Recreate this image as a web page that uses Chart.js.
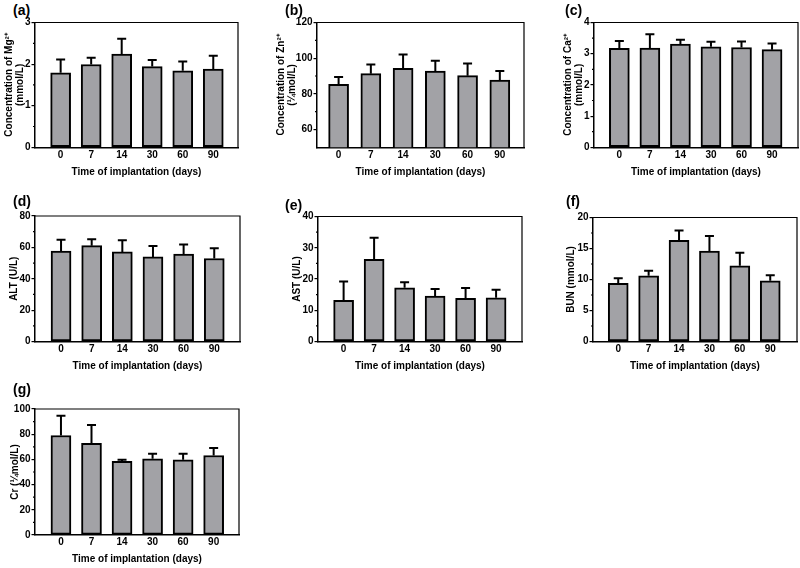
<!DOCTYPE html>
<html><head><meta charset="utf-8">
<script src="https://cdn.jsdelivr.net/npm/chart.js@4/dist/chart.umd.min.js"></script>
<style>
html,body{margin:0;padding:0;background:#fff;}
#wrap{position:relative;width:800px;height:568px;overflow:hidden;background:#fff;}
#wrap canvas{position:absolute;left:0;top:0;}
.lab{position:absolute;font:bold 14px "Liberation Sans",Arial,sans-serif;line-height:16px;color:#000;white-space:nowrap;}
</style></head><body>
<div id="wrap"></div>
<script>
// ---- data ----
const days = ['0', '7', '14', '30', '60', '90'];

const mgMean = [1.79, 1.99, 2.24, 1.94, 1.84, 1.88];
const mgSd   = [0.32, 0.16, 0.37, 0.16, 0.22, 0.32];
const mgTicks = [0, 1, 2, 3];
const mgMinor = [0.5, 1.5, 2.5];

const znMean = [85.3, 91.3, 94.3, 92.8, 90.2, 87.7];
const znSd   = [4.1, 5.1, 7.8, 5.7, 6.8, 5.1];
const znTicks = [60, 80, 100, 120];
const znMinor = [70, 90, 110];

const caMean = [3.17, 3.18, 3.31, 3.22, 3.20, 3.13];
const caSd   = [0.24, 0.44, 0.14, 0.16, 0.19, 0.20];
const caTicks = [0, 1, 2, 3, 4];
const caMinor = [0.5, 1.5, 2.5, 3.5];

const altMean = [57.7, 61.1, 57.1, 53.9, 55.8, 52.9];
const altSd   = [7.2, 4.1, 7.4, 7.0, 6.0, 6.5];
const altTicks = [0, 20, 40, 60, 80];
const altMinor = [10, 30, 50, 70];

const astMean = [13.2, 26.3, 17.2, 14.5, 13.8, 14.0];
const astSd   = [6.0, 6.9, 1.8, 2.3, 3.3, 2.6];
const astTicks = [0, 10, 20, 30, 40];
const astMinor = [5, 15, 25, 35];

const bunMean = [9.4, 10.6, 16.3, 14.6, 12.2, 9.8];
const bunSd   = [0.8, 0.8, 1.6, 2.4, 2.1, 0.9];
const bunTicks = [0, 5, 10, 15, 20];
const bunMinor = [2.5, 7.5, 12.5, 17.5];

const crMean = [79.0, 72.7, 58.4, 60.5, 59.7, 63.1];
const crSd   = [15.7, 14.6, 1.3, 4.0, 4.8, 5.9];
const crTicks = [0, 20, 40, 60, 80, 100];
const crMinor = [10, 30, 50, 70, 90];

const xTitle = 'Time of implantation (days)';

// ---- layout / styling (not data) ----
const FONT = '"Liberation Sans", Arial, sans-serif';
const panels = [
  {label:'(a)', lab:[13,2],   mean:mgMean,  sd:mgSd,  ticks:mgTicks,  minor:mgMinor,  yMin:0,  yMax:3,
   title:['Concentration of Mg²⁺','(mmol/L)'], area:[35,238,22.5,147.3], yW:35, tPad:3.5, xH:33, xPad:2.5, xMin:-0.84, xMax:5.81},
  {label:'(b)', lab:[285,2],  mean:znMean,  sd:znSd,  ticks:znTicks,  minor:znMinor,  yMin:50, yMax:120,
   title:['Concentration of Zn²⁺','(¼mol/L)'], area:[317,524,22.5,147.3], yW:45, tPad:3.5, xH:33, xPad:2.5, xMin:-0.67, xMax:5.75},
  {label:'(c)', lab:[565,2],  mean:caMean,  sd:caSd,  ticks:caTicks,  minor:caMinor,  yMin:0,  yMax:4,
   title:['Concentration of Ca²⁺','(mmol/L)'], area:[594,798,22.5,147.3], yW:33, tPad:1.5, xH:33, xPad:2.5, xMin:-0.83, xMax:5.85},
  {label:'(d)', lab:[13,193], mean:altMean, sd:altSd, ticks:altTicks, minor:altMinor, yMin:0,  yMax:80,
   title:'ALT (U/L)', area:[35,240,216,341.5], yW:35, tPad:8.5, xH:31, xPad:0.5, xMin:-0.85, xMax:5.84},
  {label:'(e)', lab:[285,197],mean:astMean, sd:astSd, ticks:astTicks, minor:astMinor, yMin:0,  yMax:40,
   title:'AST (U/L)', area:[318,522,216.5,341.5], yW:30, tPad:3.5, xH:31, xPad:0.5, xMin:-0.84, xMax:5.85},
  {label:'(f)', lab:[566,193],mean:bunMean, sd:bunSd, ticks:bunTicks, minor:bunMinor, yMin:0,  yMax:20,
   title:'BUN (mmol/L)', area:[593,797,217.5,341.5], yW:30, tPad:3, xH:31, xPad:0.5, xMin:-0.83, xMax:5.88},
  {label:'(g)', lab:[13,381], mean:crMean,  sd:crSd,  ticks:crTicks,  minor:crMinor,  yMin:0,  yMax:100,
   title:'Cr (¼mol/L)', area:[35,239,409,535], yW:35, tPad:9.5, xH:30, xPad:0.5, xMin:-0.85, xMax:5.83}
];

const wrap = document.getElementById('wrap');

panels.forEach(p => {
  const lab = document.createElement('div');
  lab.className = 'lab';
  lab.textContent = p.label;
  lab.style.left = p.lab[0] + 'px';
  lab.style.top = p.lab[1] + 'px';
  wrap.appendChild(lab);

  const cv = document.createElement('canvas');
  cv.width = 800; cv.height = 568;
  cv.style.width = '800px'; cv.style.height = '568px';
  wrap.appendChild(cv);

  const [l, r, t, b] = p.area;

  const decor = {
    id: 'decor',
    afterDatasetsDraw(chart) {
      const ctx = chart.ctx, ys = chart.scales.y, a = chart.chartArea;
      const meta = chart.getDatasetMeta(0);
      ctx.save();
      ctx.strokeStyle = '#000';
      // error bars (upper, with cap)
      ctx.lineWidth = 2;
      meta.data.forEach((bar, i) => {
        const yt = ys.getPixelForValue(p.mean[i] + p.sd[i]);
        const x = bar.x;
        ctx.beginPath();
        ctx.moveTo(x, bar.y);
        ctx.lineTo(x, yt);
        ctx.moveTo(x - 4.5, yt);
        ctx.lineTo(x + 4.5, yt);
        ctx.stroke();
      });
      // top/right frame
      ctx.lineWidth = 1.2;
      ctx.beginPath();
      ctx.moveTo(a.left, a.top);
      ctx.lineTo(a.right, a.top);
      ctx.lineTo(a.right, a.bottom);
      ctx.stroke();
      // minor ticks
      p.minor.forEach(v => {
        const py = ys.getPixelForValue(v);
        ctx.beginPath();
        ctx.moveTo(a.left - 2, py);
        ctx.lineTo(a.left, py);
        ctx.stroke();
      });
      ctx.restore();
    }
  };

  new Chart(cv, {
    type: 'bar',
    data: {
      datasets: [{
        data: days.map((d, i) => ({x: i, y: p.mean[i]})),
        backgroundColor: '#a2a2a6',
        borderColor: '#000',
        borderWidth: 2,
        borderSkipped: false,
        barThickness: 20
      }]
    },
    options: {
      responsive: false,
      animation: false,
      devicePixelRatio: 1,
      events: [],
      layout: {padding: {left: l - p.yW, right: 800 - r, top: t, bottom: 568 - b - p.xH}},
      plugins: {legend: {display: false}, tooltip: {enabled: false}},
      scales: {
        x: {
          type: 'linear', min: p.xMin, max: p.xMax, offset: false,
          afterBuildTicks: s => { s.ticks = days.map((d, i) => ({value: i})); },
          afterFit: s => { s.height = p.xH; },
          ticks: {color: '#000', font: {family: FONT, size: 10, weight: 'bold'}, padding: 1.5,
                  autoSkip: false, maxRotation: 0, minRotation: 0, callback: (v, i) => days[i]},
          grid: {display: false, drawTicks: false},
          border: {display: true, color: '#000', width: 1.5},
          title: {display: true, text: xTitle, color: '#000',
                  font: {family: FONT, size: 10, weight: 'bold', lineHeight: 1.1},
                  padding: {top: 0, bottom: p.xPad}}
        },
        y: {
          type: 'linear', min: p.yMin, max: p.yMax,
          afterBuildTicks: s => { s.ticks = p.ticks.map(v => ({value: v})); },
          afterFit: s => { s.width = p.yW; },
          ticks: {color: '#000', font: {family: FONT, size: 10, weight: 'bold'}, padding: 1},
          grid: {display: true, drawOnChartArea: false, drawTicks: true, tickLength: 3.5,
                 color: '#000', lineWidth: 1.2},
          border: {display: true, color: '#000', width: 1.5},
          title: {display: true, text: p.title, color: '#000',
                  font: {family: FONT, size: 10, weight: 'bold', lineHeight: 1.1},
                  padding: {top: p.tPad, bottom: 0}}
        }
      }
    },
    plugins: [decor]
  });
});
</script>
</body></html>
